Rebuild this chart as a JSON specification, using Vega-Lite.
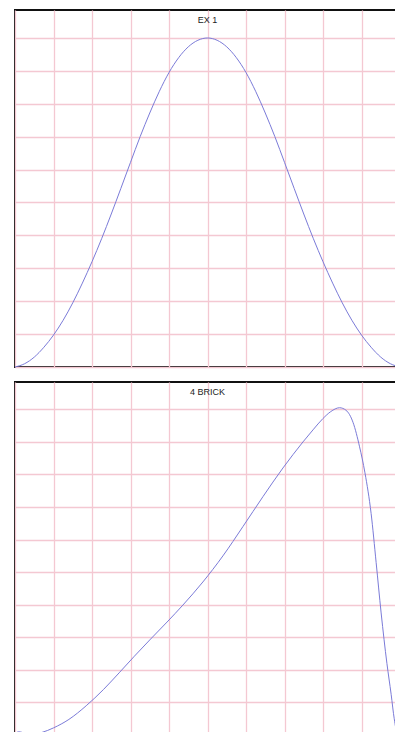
{
  "$schema": "https://vega.github.io/schema/vega-lite/v6.json",
  "padding": {"left": 12, "top": 9, "right": 0, "bottom": 0},
  "background": "white",
  "spacing": 11,
  "datasets": {
    "ex1": [
      {"x": 0, "v": 0}, {"x": 0.25, "v": 0.1}, {"x": 0.5, "v": 0.3}, {"x": 0.75, "v": 0.6},
      {"x": 1.0, "v": 0.97}, {"x": 1.25, "v": 1.42}, {"x": 1.5, "v": 1.95}, {"x": 1.75, "v": 2.55},
      {"x": 2.0, "v": 3.2}, {"x": 2.25, "v": 3.9}, {"x": 2.5, "v": 4.65}, {"x": 2.75, "v": 5.43},
      {"x": 3.0, "v": 6.22}, {"x": 3.25, "v": 7.0}, {"x": 3.5, "v": 7.72}, {"x": 3.75, "v": 8.38},
      {"x": 4.0, "v": 8.95}, {"x": 4.25, "v": 9.4}, {"x": 4.5, "v": 9.73}, {"x": 4.75, "v": 9.93},
      {"x": 5.0, "v": 10}, {"x": 5.25, "v": 9.93}, {"x": 5.5, "v": 9.73}, {"x": 5.75, "v": 9.4},
      {"x": 6.0, "v": 8.95}, {"x": 6.25, "v": 8.38}, {"x": 6.5, "v": 7.72}, {"x": 6.75, "v": 7.0},
      {"x": 7.0, "v": 6.22}, {"x": 7.25, "v": 5.43}, {"x": 7.5, "v": 4.65}, {"x": 7.75, "v": 3.9},
      {"x": 8.0, "v": 3.2}, {"x": 8.25, "v": 2.55}, {"x": 8.5, "v": 1.95}, {"x": 8.75, "v": 1.42},
      {"x": 9.0, "v": 0.97}, {"x": 9.25, "v": 0.6}, {"x": 9.5, "v": 0.3}, {"x": 9.75, "v": 0.1},
      {"x": 10, "v": 0}
    ],
    "brick": [
      {"x": 0, "v": 0.05}, {"x": 0.1, "v": 0.1}, {"x": 0.22, "v": 0.07}, {"x": 0.38, "v": 0.01},
      {"x": 0.7, "v": 0.08}, {"x": 1.0, "v": 0.22}, {"x": 1.4, "v": 0.48}, {"x": 1.85, "v": 0.9},
      {"x": 2.3, "v": 1.4}, {"x": 2.72, "v": 1.93}, {"x": 3.1, "v": 2.42}, {"x": 3.5, "v": 2.92},
      {"x": 3.95, "v": 3.47}, {"x": 4.36, "v": 3.99}, {"x": 4.88, "v": 4.7}, {"x": 5.4, "v": 5.5},
      {"x": 5.92, "v": 6.4}, {"x": 6.44, "v": 7.32}, {"x": 6.96, "v": 8.2}, {"x": 7.48, "v": 9.0},
      {"x": 7.74, "v": 9.37}, {"x": 8.0, "v": 9.72}, {"x": 8.2, "v": 9.93}, {"x": 8.43, "v": 10.05},
      {"x": 8.6, "v": 9.97}, {"x": 8.78, "v": 9.6}, {"x": 8.95, "v": 8.85}, {"x": 9.09, "v": 8.05},
      {"x": 9.25, "v": 6.8}, {"x": 9.38, "v": 5.3}, {"x": 9.51, "v": 3.75}, {"x": 9.66, "v": 2.2},
      {"x": 9.77, "v": 1.25}, {"x": 9.85, "v": 0.5}, {"x": 9.93, "v": 0.05}, {"x": 10, "v": 0}
    ]
  },
  "vconcat": [
    {
      "data": {"name": "ex1"},
      "width": 385,
      "height": 357,
      "title": {"text": "EX 1", "offset": -15},
      "mark": {"type": "line", "interpolate": "monotone", "color": "#7b7bd8", "strokeWidth": 1},
      "encoding": {
        "x": {"field": "x", "type": "quantitative", "scale": {"domain": [0, 10], "nice": false, "zero": false},
              "axis": {"values": [0,1,2,3,4,5,6,7,8,9,10]}},
        "y": {"field": "v", "type": "quantitative", "scale": {"domain": [0, 10.85], "nice": false, "zero": false},
              "axis": {"values": [0,1,2,3,4,5,6,7,8,9,10]}}
      }
    },
    {
      "data": {"name": "brick"},
      "width": 385,
      "height": 355,
      "title": {"text": "4 BRICK", "offset": -15},
      "mark": {"type": "line", "interpolate": "monotone", "color": "#7b7bd8", "strokeWidth": 1},
      "encoding": {
        "x": {"field": "x", "type": "quantitative", "scale": {"domain": [0, 10], "nice": false, "zero": false},
              "axis": {"values": [0,1,2,3,4,5,6,7,8,9,10]}},
        "y": {"field": "v", "type": "quantitative", "scale": {"domain": [-0.06, 10.84], "nice": false, "zero": false},
              "axis": {"values": [0,1,2,3,4,5,6,7,8,9,10]}}
      }
    }
  ],
  "config": {
    "view": {"stroke": "#111111", "strokeWidth": 2},
    "axis": {
      "labels": false, "ticks": false, "domain": false, "title": null,
      "grid": true, "gridColor": "#f4c8d2", "gridWidth": 1.3, "gridOpacity": 1
    },
    "title": {"font": "Liberation Sans", "fontSize": 9, "fontWeight": "normal", "color": "#222222", "anchor": "middle"}
  }
}
